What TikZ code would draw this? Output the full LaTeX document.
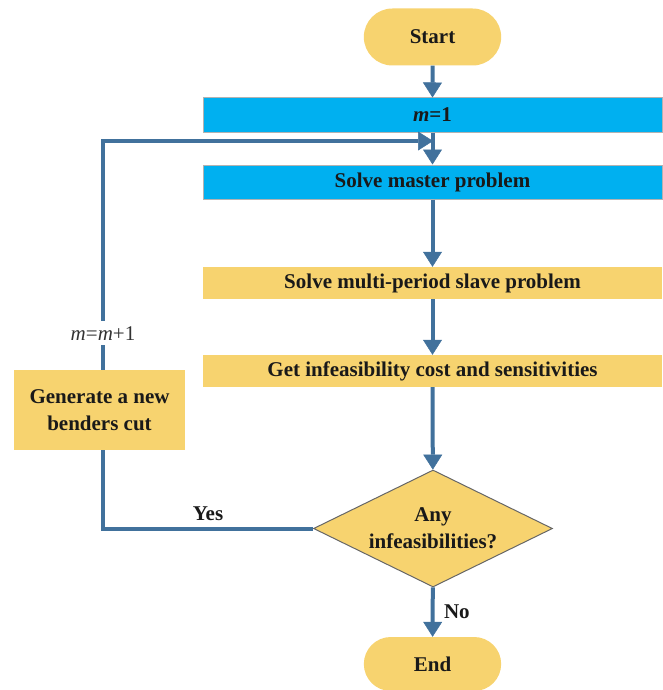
\documentclass[tikz,border=0pt]{standalone}
\usepackage{fontspec}
\setmainfont{Liberation Serif}
\usetikzlibrary{shapes.geometric,shapes.misc,arrows.meta}
\definecolor{barblue}{HTML}{00B0F0}
\definecolor{bargold}{HTML}{F7D36F}
\definecolor{linkblue}{HTML}{41719C}
\begin{document}
\begin{tikzpicture}[x=1pt,y=-1pt,
    every node/.style={font=\fontsize{21}{27}\selectfont\bfseries,text=black!90},
    terminal/.style={rounded rectangle,fill=bargold,minimum width=144pt,minimum height=57pt},
    bluebar/.style={rectangle,fill=barblue,draw=gray!60,line width=1pt,minimum width=459pt,minimum height=34pt,inner sep=0pt},
    goldbar/.style={rectangle,fill=bargold,minimum width=459pt,minimum height=32pt,inner sep=0pt},
    decision/.style={diamond,aspect=2,fill=bargold,draw=gray!80!black,line width=1pt,minimum width=239pt,minimum height=117pt,inner sep=1pt,align=center},
    link/.style={draw,color=linkblue,line width=4pt},
    tip/.style={-{Triangle[width=19pt,length=15pt,line width=0.5pt]}}]
    \useasboundingbox (0,0) rectangle (662,690);

    \node[terminal] at (432.5, 37) (start) {Start};
    \node[bluebar] at (432.5, 115) (init) {\textit{m}=1};
    \node[bluebar] at (432.5, 182) (master) {Solve master problem};
    \node[goldbar] at (432.5, 283) (slave) {Solve multi-period slave problem};
    \node[goldbar] at (432.5, 371) (cost) {Get infeasibility cost and sensitivities};
    \node[decision] at (433, 528.5) (check) {Any\\infeasibilities?};
    \node[terminal,minimum height=54pt] at (432.5, 664) (end) {End};
    \node[rectangle,fill=bargold,minimum width=171pt,minimum height=80pt,align=center] at (99.5, 410) (gencut) {Generate a new\\benders cut};
    \coordinate (join) at (433, 141);

    \path[link,tip] (start) edge (init);
    \path[link,tip] (init) edge (master);
    \path[link,tip] (master) edge (slave);
    \path[link,tip] (slave) edge (cost);
    \path[link,tip] (cost) edge (check);
    \path[link,tip] (check) edge node [right,xshift=6pt] {No} (end);

    \draw[link] (check.west) -| ([xshift=3.5pt]gencut.south) node [pos=0.25,above,yshift=2pt] {Yes};
    \draw[link,tip] ([xshift=3.5pt]gencut.north) |- (join)
        node [pos=0.08,fill=white,inner sep=5pt,font=\fontsize{21}{27}\selectfont\mdseries,text=black!80] {\textit{m}=\textit{m}+1};
\end{tikzpicture}
\end{document}
